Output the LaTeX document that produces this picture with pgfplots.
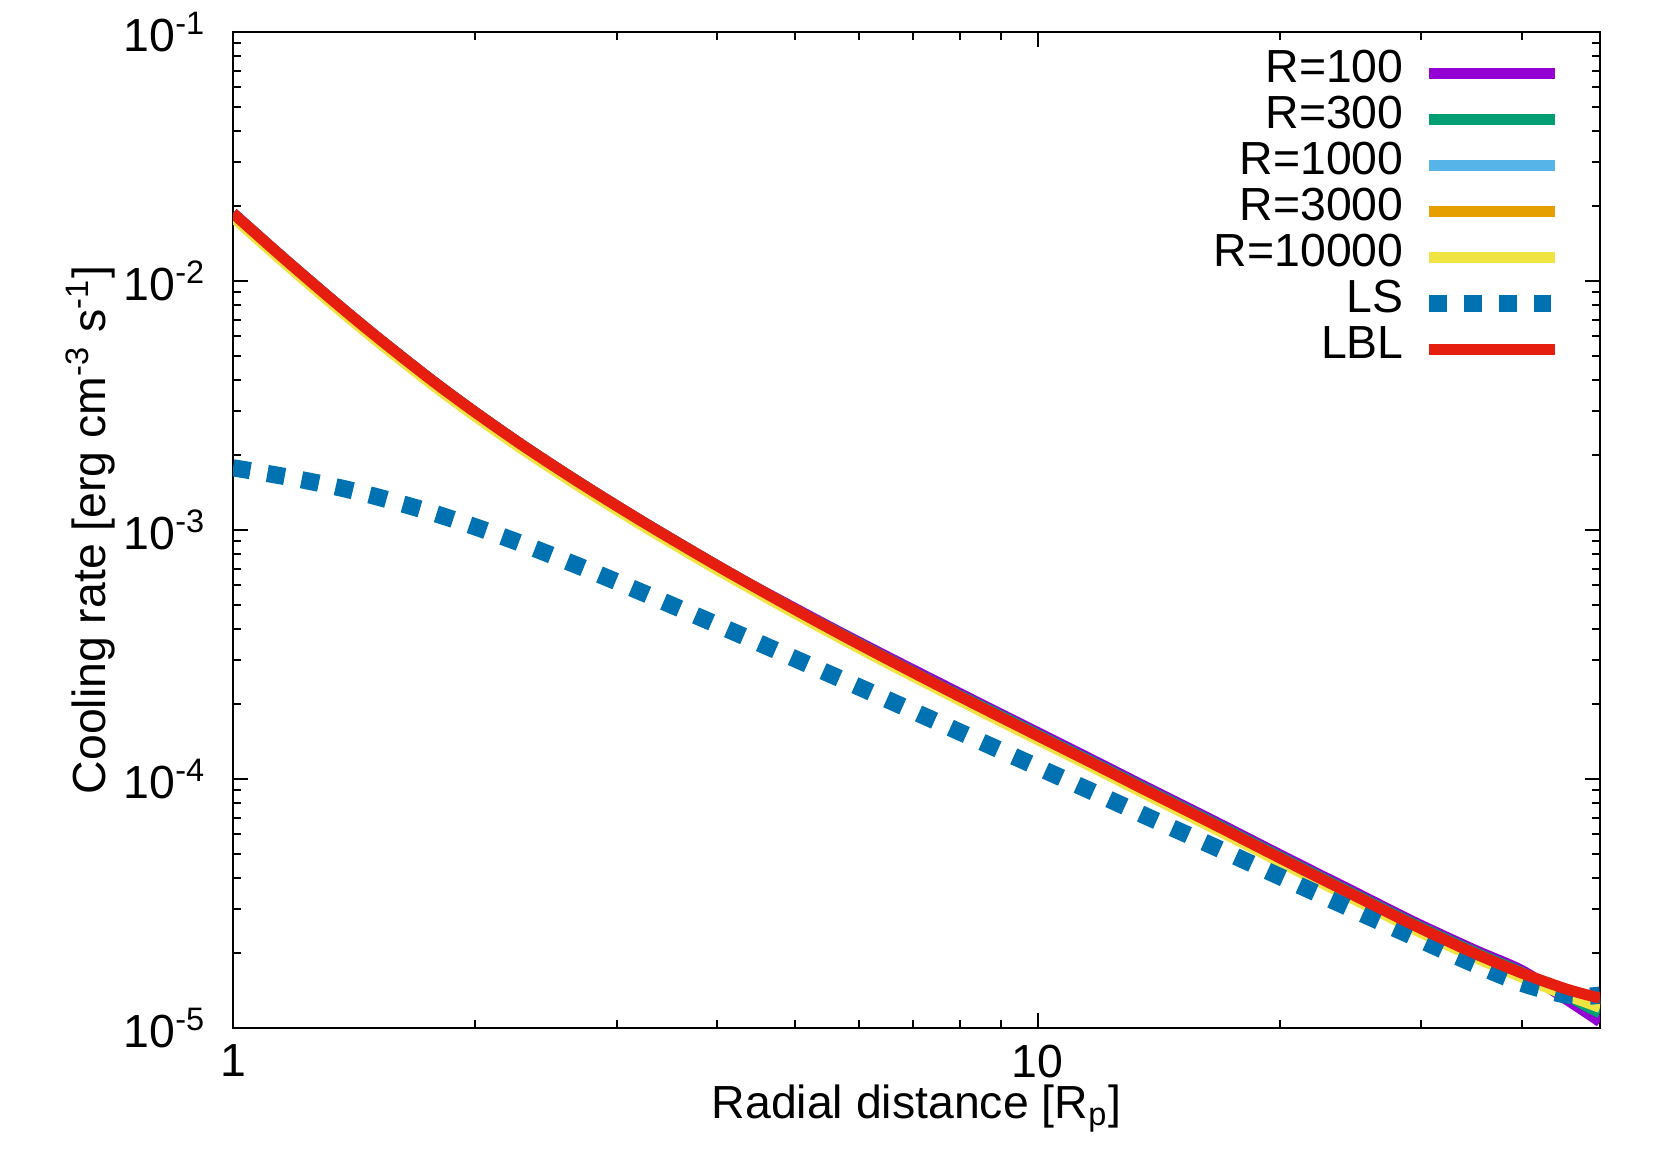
\documentclass[border=0pt]{standalone}
\usepackage{fontspec}
\setmainfont{Liberation Sans}
\usepackage{pgfplots}
\usepackage{pgfplotstable}
\pgfplotsset{compat=1.18}

\definecolor{gpPurple}{HTML}{9400D3}
\definecolor{gpGreen}{HTML}{009E73}
\definecolor{gpSky}{HTML}{56B4E9}
\definecolor{gpOrange}{HTML}{E69F00}
\definecolor{gpYellow}{HTML}{F0E442}
\definecolor{gpBlue}{HTML}{0072B2}
\definecolor{gpRed}{HTML}{E51E10}

% cooling rate vs radial distance
\pgfplotstableread{
x     r100     r300     r1000    r3000    r10000   ls       lbl
1     1.871e-2 1.871e-2 1.852e-2 1.824e-2 1.806e-2 1.778e-3 1.871e-2
1.15  1.253e-2 1.253e-2 1.240e-2 1.222e-2 1.209e-2 1.648e-3 1.253e-2
1.32  8.54e-3  8.54e-3  8.45e-3  8.33e-3  8.24e-3  1.509e-3 8.54e-3
1.5   6.06e-3  6.06e-3  6.00e-3  5.91e-3  5.85e-3  1.367e-3 6.06e-3
1.76  4.03e-3  4.03e-3  3.99e-3  3.93e-3  3.89e-3  1.180e-3 4.03e-3
2.0   2.971e-3 2.971e-3 2.941e-3 2.897e-3 2.867e-3 1.030e-3 2.971e-3
2.3   2.168e-3 2.168e-3 2.146e-3 2.114e-3 2.092e-3 8.747e-4 2.168e-3
2.7   1.545e-3 1.545e-3 1.530e-3 1.506e-3 1.491e-3 7.132e-4 1.545e-3
3.2   1.099e-3 1.099e-3 1.088e-3 1.072e-3 1.061e-3 5.675e-4 1.099e-3
3.8   7.907e-4 7.907e-4 7.83e-4  7.71e-4  7.63e-4  4.469e-4 7.907e-4
4.3   6.286e-4 6.286e-4 6.22e-4  6.13e-4  6.07e-4  3.758e-4 6.286e-4
5.0   4.83e-4  4.785e-4 4.74e-4  4.67e-4  4.62e-4  3.037e-4 4.785e-4
5.7   3.86e-4  3.82e-4  3.76e-4  3.71e-4  3.67e-4  2.519e-4 3.801e-4
6.5   3.10e-4  3.05e-4  3.01e-4  2.96e-4  2.93e-4  2.087e-4 3.036e-4
7.6   2.40e-4  2.35e-4  2.31e-4  2.28e-4  2.26e-4  1.665e-4 2.338e-4
8.8   1.89e-4  1.86e-4  1.82e-4  1.79e-4  1.77e-4  1.345e-4 1.838e-4
10.4  1.443e-4 1.415e-4 1.387e-4 1.366e-4 1.352e-4 1.055e-4 1.401e-4
12    1.144e-4 1.122e-4 1.100e-4 1.083e-4 1.072e-4 8.568e-5 1.111e-4
13.7  9.21e-5  9.03e-5  8.85e-5  8.72e-5  8.63e-5  7.047e-5 8.94e-5
16.5  6.82e-5  6.69e-5  6.55e-5  6.45e-5  6.39e-5  5.384e-5 6.62e-5
20.5  4.77e-5  4.68e-5  4.58e-5  4.51e-5  4.47e-5  3.914e-5 4.63e-5
25    3.46e-5  3.39e-5  3.32e-5  3.27e-5  3.24e-5  2.931e-5 3.355e-5
29.4  2.66e-5  2.61e-5  2.56e-5  2.52e-5  2.49e-5  2.316e-5 2.583e-5
35    2.05e-5  2.01e-5  1.97e-5  1.94e-5  1.92e-5  1.799e-5 1.989e-5
40    1.70e-5  1.67e-5  1.64e-5  1.62e-5  1.60e-5  1.511e-5 1.661e-5
45    1.33e-5  1.38e-5  1.42e-5  1.40e-5  1.37e-5  1.364e-5 1.448e-5
48    1.16e-5  1.23e-5  1.31e-5  1.29e-5  1.27e-5  1.341e-5 1.363e-5
50    1.06e-5  1.15e-5  1.26e-5  1.24e-5  1.21e-5  1.356e-5 1.320e-5
}\cooling

\begin{document}
\begin{tikzpicture}[font=\fontsize{11.6bp}{13.5bp}\selectfont]
\begin{axis}[
  scale only axis, width=341.75bp, height=249bp,
  xmode=log, ymode=log,
  xmin=1, xmax=50, ymin=1e-5, ymax=1e-1,
  xtick={1,10}, xticklabels={1,10},
  minor xtick={2,3,4,5,6,7,8,9,20,30,40},
  ytick={1e-5,1e-4,1e-3,1e-2,1e-1},
  yticklabels={10\textsuperscript{-5},10\textsuperscript{-4},10\textsuperscript{-3},10\textsuperscript{-2},10\textsuperscript{-1}},
  minor ytick={2e-5,3e-5,4e-5,5e-5,6e-5,7e-5,8e-5,9e-5,
               2e-4,3e-4,4e-4,5e-4,6e-4,7e-4,8e-4,9e-4,
               2e-3,3e-3,4e-3,5e-3,6e-3,7e-3,8e-3,9e-3,
               2e-2,3e-2,4e-2,5e-2,6e-2,7e-2,8e-2,9e-2},
  tick align=inside, tick pos=both,
  major tick length=3.75bp, minor tick length=2bp,
  every tick/.style={black, line width=0.5bp},
  axis line style={line width=0.6bp},
  xticklabel style={inner sep=0pt, yshift=-4bp},
  yticklabel style={inner sep=0pt, xshift=-6.5bp},
  xlabel={Radial distance [R\textsubscript{p}]},
  xlabel style={at={(axis description cs:0.5,-0.0904)}, anchor=base},
  ylabel={Cooling rate [erg cm\textsuperscript{-3} s\textsuperscript{-1}]},
  ylabel style={at={(axis description cs:-0.093,0.5)}, anchor=base},
  every axis plot/.append style={smooth, line join=round},
  legend plot pos=right,
  legend cell align=right,
  legend image code/.code={\draw[#1, sharp plot] (0bp,0bp) -- (31.4bp,0bp);},
  legend style={draw=none, fill=none, inner sep=0pt, row sep=0pt, column sep=4.3bp,
    at={(axis description cs:1,1)}, anchor=north east, xshift=-8.9bp, yshift=-4.4bp,
    nodes={inner sep=0pt, text height=8bp, text depth=3.5bp}},
]
\addplot[gpPurple, line width=2.75bp] table[x=x, y=r100] {\cooling};
\addlegendentry{R=100}
\addplot[gpGreen, line width=2.75bp] table[x=x, y=r300] {\cooling};
\addlegendentry{R=300}
\addplot[gpSky, line width=2.75bp] table[x=x, y=r1000] {\cooling};
\addlegendentry{R=1000}
\addplot[gpOrange, line width=2.75bp] table[x=x, y=r3000] {\cooling};
\addlegendentry{R=3000}
\addplot[gpYellow, line width=2.75bp] table[x=x, y=r10000] {\cooling};
\addlegendentry{R=10000}
\addplot[gpBlue, line width=4.3bp, dash pattern=on 4.4bp off 4.3bp] table[x=x, y=ls] {\cooling};
\addlegendentry{LS}
\addplot[gpRed, line width=2.75bp] table[x=x, y=lbl] {\cooling};
\addlegendentry{LBL}
\end{axis}
\pgfresetboundingbox
\path ([shift={(-58.25bp,-33.75bp)}]current axis.south west) rectangle ([shift={(15.25bp,8bp)}]current axis.north east);
\end{tikzpicture}
\end{document}
